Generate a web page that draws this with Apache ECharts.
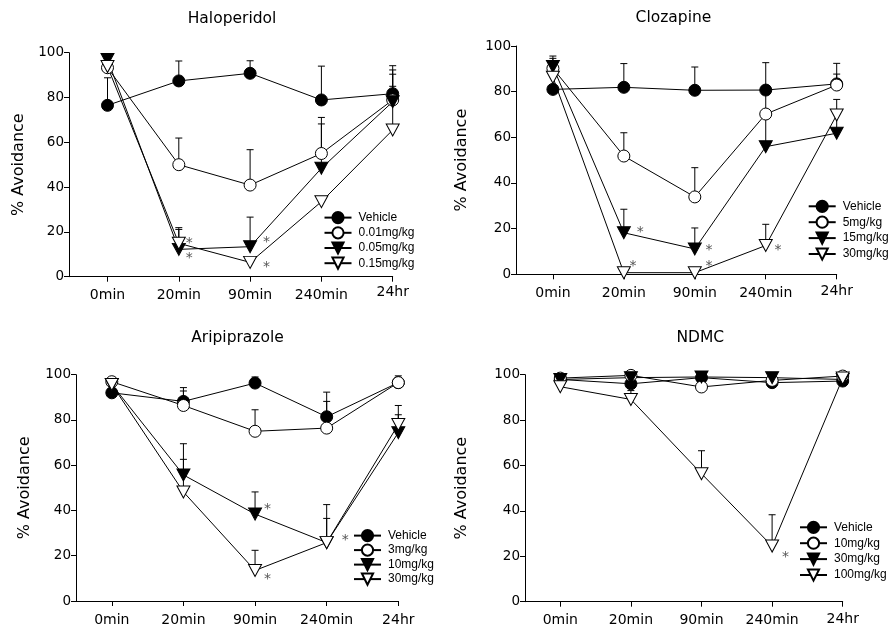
<!DOCTYPE html>
<html>
<head>
<meta charset="utf-8">
<script src="https://cdn.jsdelivr.net/npm/echarts@6/dist/echarts.min.js"></script>
<style>
html, body { margin: 0; padding: 0; background: #fff; }
.panel { position: absolute; width: 446px; height: 316px; }
</style>
</head>
<body>
<div id="p1" class="panel" style="left:0;top:0"></div>
<div id="p2" class="panel" style="left:446px;top:0"></div>
<div id="p3" class="panel" style="left:0;top:316px"></div>
<div id="p4" class="panel" style="left:446px;top:316px"></div>
<script>
var timeLabels = ['0min', '20min', '90min', '240min', '24hr'];
var yTicks = [0, 20, 40, 60, 80, 100];

// Haloperidol
var haloNames = ['Vehicle', '0.01mg/kg', '0.05mg/kg', '0.15mg/kg'];
var haloVehicle = [76.5, 87.4, 90.8, 78.9, 81.7];
var haloVehicleUp = [88.8, 96.3, 96.4, 94.0, 94.2];
var halo001 = [93.3, 50.0, 40.9, 55.0, 78.9];
var halo001Up = [98.3, 61.9, 56.7, 71.1, 92.3];
var halo005 = [97.0, 12.2, 13.4, 48.4, 78.1];
var halo005Up = [null, 21.1, 26.6, 68.2, 90.4];
var halo015 = [93.8, 14.9, 6.4, 33.5, 65.5];
var halo015Up = [null, 21.9, null, null, 85.0];
var halo005Star = [0, 1, 1, 0, 0];
var halo015Star = [0, 1, 1, 0, 0];

// Clozapine
var cloNames = ['Vehicle', '5mg/kg', '15mg/kg', '30mg/kg'];
var cloVehicle = [81.0, 81.9, 80.6, 80.7, 83.4];
var cloVehicleUp = [null, 92.3, 90.8, 92.7, 92.4];
var clo5 = [90.2, 51.8, 33.9, 70.2, 82.9];
var clo5Up = [95.6, 62.0, 46.7, 82.0, 87.7];
var clo15 = [91.0, 18.2, 11.1, 55.9, 61.8];
var clo15Up = [94.6, 28.5, 20.3, 72.0, 76.6];
var clo30 = [86.3, 0.7, 0.7, 12.6, 69.8];
var clo30Up = [null, null, null, 21.9, null];
var clo15Star = [0, 1, 1, 0, 0];
var clo30Star = [0, 1, 1, 1, 0];

// Aripiprazole
var ariNames = ['Vehicle', '3mg/kg', '10mg/kg', '30mg/kg'];
var ariVehicle = [92.0, 88.2, 96.3, 81.4, 96.5];
var ariVehicleUp = [null, 94.3, 99.0, 92.3, 99.5];
var ari3 = [96.9, 86.4, 75.0, 76.4, 96.5];
var ari3Up = [98.5, 92.8, 84.5, 88.2, null];
var ari10 = [95.7, 55.7, 38.4, 25.8, 74.4];
var ari10Up = [null, 69.5, 48.2, 36.5, 82.3];
var ari30 = [95.7, 48.2, 13.5, 25.8, 78.0];
var ari30Up = [null, 62.6, 22.4, 42.6, 86.4];
var ari10Star = [0, 0, 1, 0, 0];
var ari30Star = [0, 0, 1, 1, 0];

// NDMC
var ndmcNames = ['Vehicle', '10mg/kg', '30mg/kg', '100mg/kg'];
var ndmcVehicle = [97.9, 96.0, 98.7, 96.5, 97.2];
var ndmc10 = [98.5, 99.7, 94.6, 97.5, 99.4];
var ndmc30 = [97.9, 98.7, 99.0, 98.7, 97.9];
var ndmc100 = [94.7, 89.1, 56.4, 24.5, 98.5];
var ndmc100Up = [null, 93.0, 66.5, 38.3, null];
var ndmc100Star = [0, 0, 0, 1, 0];

var noStar = [0, 0, 0, 0, 0];
var noErr = [null, null, null, null, null];

// marker look, same order in every panel
var markers = [
    { symbol: 'circle', size: 12, rotate: 0, fill: '#000' },
    { symbol: 'circle', size: 12, rotate: 0, fill: '#fff' },
    { symbol: 'triangle', size: [13, 12], rotate: 180, fill: '#000' },
    { symbol: 'triangle', size: [13, 12], rotate: 180, fill: '#fff' }
];

function starLabel(off) {
    // off = [dx, dy] from the point centre
    return {
        show: true, formatter: '*', position: 'right', distance: 2,
        offset: [off[0] - 12, off[1] + 3],
        fontFamily: 'DejaVu Sans', fontSize: 14, color: '#555'
    };
}

function labelFmt(v) { return timeLabels[Math.round(v)]; }

function makePanel(id, cfg) {
    var chart = echarts.init(document.getElementById(id), null, { renderer: 'canvas' });
    var L = cfg.layout;
    var series = [];
    cfg.names.forEach(function (name, k) {
        var m = markers[k];
        var vals = cfg.values[k], ups = cfg.ups[k], stars = cfg.stars[k];
        var offs = (L.starPos && L.starPos[k]) || {};
        var data = vals.map(function (v, i) {
            var item = { value: [i, v] };
            if (stars[i]) item.label = starLabel(offs[i] || [12, 0]);
            return item;
        });
        series.push({
            name: name, type: 'line', z: 3, data: data,
            symbol: m.symbol, symbolSize: m.size, symbolRotate: m.rotate,
            showAllSymbol: true,
            itemStyle: { color: m.fill, borderColor: '#000', borderWidth: 1, opacity: 1 },
            lineStyle: { color: '#000', width: 1 },
            emphasis: { disabled: true }
        });
        var err = [];
        ups.forEach(function (u, i) { if (u != null) err.push([i, vals[i], u]); });
        series.push({
            name: name + ' err', type: 'custom', z: 1, silent: true, data: err,
            renderItem: function (params, api) {
                var x = api.value(0);
                var p0 = api.coord([x, api.value(1)]);
                var p1 = api.coord([x, api.value(2)]);
                var st = { stroke: '#000', lineWidth: 1 };
                return {
                    type: 'group', children: [
                        { type: 'line', shape: { x1: p0[0], y1: p0[1], x2: p1[0], y2: p1[1] }, style: st },
                        { type: 'line', shape: { x1: p1[0] - 3.5, y1: p1[1], x2: p1[0] + 3.5, y2: p1[1] }, style: st }
                    ]
                };
            }
        });
    });

    var xBase = {
        type: 'value', min: L.xMin, max: 4, gridIndex: 0, position: 'bottom',
        splitLine: { show: false }
    };
    var option = {
        animation: false,
        backgroundColor: '#fff',
        title: {
            text: cfg.title, left: L.title[0], top: L.title[1], textAlign: 'center', padding: 0,
            textStyle: { fontFamily: 'DejaVu Sans', fontSize: 15.5, fontWeight: 'normal', color: '#000' }
        },
        legend: {
            orient: 'vertical', left: L.legend[0], top: L.legend[1], padding: 0,
            itemWidth: 27, itemHeight: 14, itemGap: L.legend[2],
            data: cfg.names,
            textStyle: { fontFamily: 'Liberation Sans', fontSize: 12, color: '#000', padding: [0, 0, 0, 2] },
            selectedMode: false
        },
        grid: { left: L.grid[0], top: L.grid[1], width: L.grid[2], height: L.grid[3], containLabel: false },
        xAxis: [
            Object.assign({}, xBase, {
                axisLine: { onZero: false, lineStyle: { color: '#000', width: 1 } },
                axisTick: { show: true, length: 5, lineStyle: { color: '#000' }, customValues: [0, 1, 2, 3, 4] },
                axisLabel: {
                    customValues: [0, 1, 2, 3], margin: 12, formatter: labelFmt,
                    fontFamily: 'DejaVu Sans', fontSize: 14, color: '#000'
                }
            }),
            Object.assign({}, xBase, {
                axisLine: { show: false, onZero: false }, axisTick: { show: false },
                axisLabel: {
                    customValues: [4], margin: L.lastMargin, formatter: labelFmt,
                    fontFamily: 'DejaVu Sans', fontSize: 14, color: '#000'
                }
            })
        ],
        yAxis: {
            type: 'value', min: 0, max: 100, interval: 20, position: 'left',
            name: '% Avoidance', nameLocation: 'middle', nameGap: L.nameGap,
            nameTextStyle: { fontFamily: 'DejaVu Sans', fontSize: 16, color: '#000' },
            splitLine: { show: false },
            axisLine: { show: true, onZero: false, lineStyle: { color: '#000', width: 1 } },
            axisTick: { show: true, inside: false, length: 5, lineStyle: { color: '#000' } },
            axisLabel: {
                margin: 5, fontFamily: 'DejaVu Sans', fontSize: 13.5, color: '#000',
                formatter: function (v) { return yTicks.indexOf(v) >= 0 ? String(v) : ''; }
            }
        },
        series: series
    };
    chart.setOption(option);
}

makePanel('p1', {
    title: 'Haloperidol', names: haloNames,
    values: [haloVehicle, halo001, halo005, halo015],
    ups: [haloVehicleUp, halo001Up, halo005Up, halo015Up],
    stars: [noStar, noStar, halo005Star, halo015Star],
    layout: {
        grid: [69, 52.7, 323.7, 224], xMin: -0.54, title: [232, 11], legend: [323.5, 211, 2],
        nameGap: 38, lastMargin: 9,
        starPos: { 2: { 1: [10, 6], 2: [16, -7] }, 3: { 1: [10, -3], 2: [16, 1.5] } }
    }
});

makePanel('p2', {
    title: 'Clozapine', names: cloNames,
    values: [cloVehicle, clo5, clo15, clo30],
    ups: [cloVehicleUp, clo5Up, clo15Up, clo30Up],
    stars: [noStar, noStar, clo15Star, clo30Star],
    layout: {
        grid: [63.3, 46, 327.4, 228.3], xMin: -0.52, title: [227.5, 10.3], legend: [361.7, 199.7, 2.7],
        nameGap: 46, lastMargin: 10,
        starPos: { 2: { 1: [16, -3], 2: [13.6, -1.6] }, 3: { 1: [8.7, -9], 2: [13.6, -9], 3: [11.7, 2] } }
    }
});

makePanel('p3', {
    title: 'Aripiprazole', names: ariNames,
    values: [ariVehicle, ari3, ari10, ari30],
    ups: [ariVehicleUp, ari3Up, ari10Up, ari30Up],
    stars: [noStar, noStar, ari10Star, ari30Star],
    layout: {
        grid: [76, 58.7, 322.3, 226.3], xMin: -0.5, title: [237.5, 14.3], legend: [353, 213, 1.3],
        nameGap: 43, lastMargin: 12,
        starPos: { 2: { 2: [12, -8] }, 3: { 2: [12, 6], 3: [18, -5] } }
    }
});

makePanel('p4', {
    title: 'NDMC', names: ndmcNames,
    values: [ndmcVehicle, ndmc10, ndmc30, ndmc100],
    ups: [noErr, noErr, noErr, ndmc100Up],
    stars: [noStar, noStar, noStar, ndmc100Star],
    layout: {
        grid: [72.7, 58.7, 324, 227], xMin: -0.5, title: [254.3, 13.7], legend: [353, 204.7, 2.7],
        nameGap: 55, lastMargin: 11,
        starPos: { 3: { 3: [13, 8] } }
    }
});
</script>
</body>
</html>
